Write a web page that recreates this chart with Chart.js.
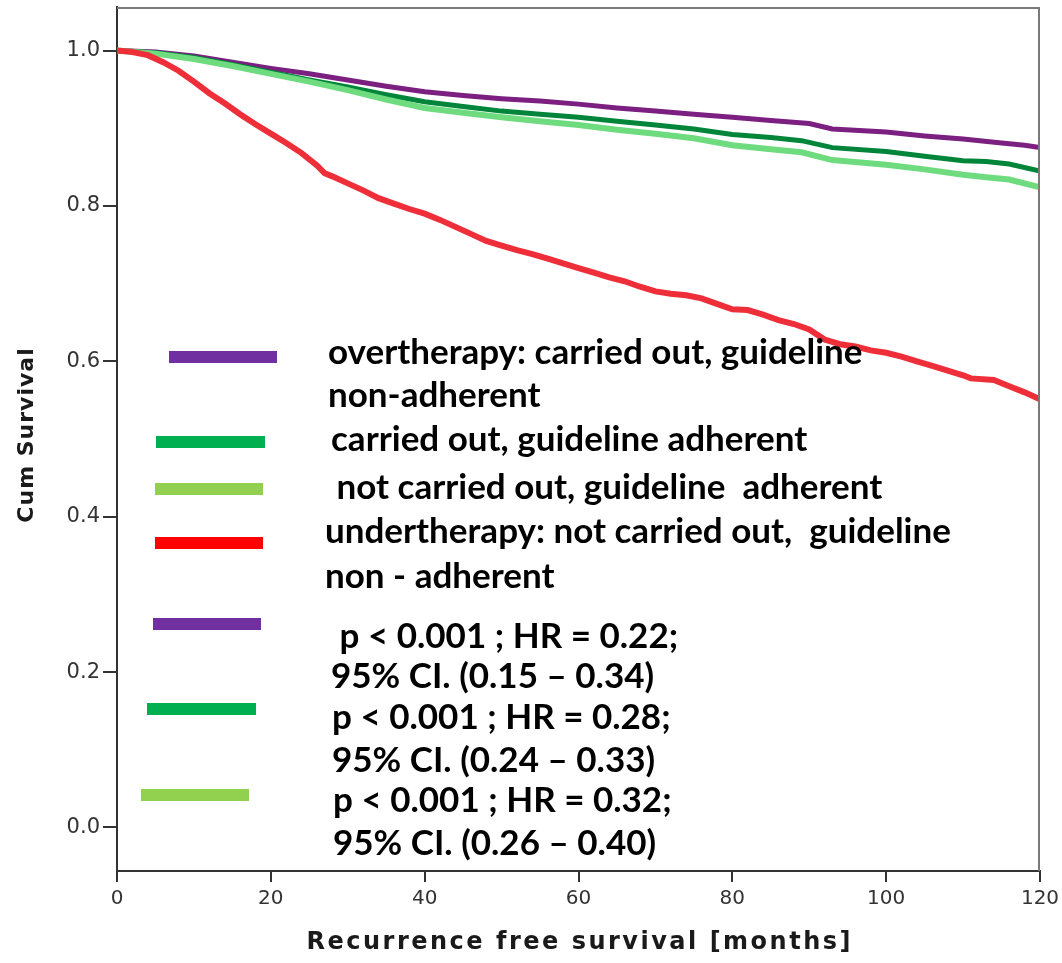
<!DOCTYPE html>
<html>
<head>
<meta charset="utf-8">
<script src="https://cdn.jsdelivr.net/npm/chart.js@4.4.1/dist/chart.umd.min.js"></script>
<style>
html,body{margin:0;padding:0;background:#fff;}
#wrap{width:1062px;height:963px;position:relative;}
</style>
</head>
<body>
<div id="wrap"><canvas id="c"></canvas></div>
<script>
// ---- data ----
const purpleMonths = [0,5,10,15,20,25,30,35,40,45,50,55,60,65,70,75,80,85,90,93,100,105,110,115,118,120];
const purpleSurv   = [1.0,0.998,0.993,0.985,0.977,0.970,0.962,0.954,0.947,0.942,0.938,0.935,0.931,0.926,0.922,0.918,0.914,0.910,0.906,0.899,0.895,0.890,0.886,0.881,0.878,0.875];

const darkGreenMonths = [0,5,10,15,20,25,30,35,40,45,50,55,60,65,70,75,80,85,89,93,100,105,110,113,116,120];
const darkGreenSurv   = [1.0,0.997,0.991,0.982,0.972,0.962,0.953,0.943,0.934,0.928,0.922,0.918,0.914,0.909,0.904,0.899,0.892,0.888,0.884,0.875,0.870,0.864,0.858,0.857,0.854,0.845];

const lightGreenMonths = [0,5,10,15,20,25,30,35,40,45,50,55,60,65,70,75,80,85,89,93,100,105,110,113,116,120];
const lightGreenSurv   = [1.0,0.996,0.989,0.980,0.970,0.960,0.949,0.937,0.926,0.920,0.914,0.909,0.904,0.898,0.893,0.887,0.878,0.873,0.869,0.859,0.853,0.847,0.840,0.837,0.834,0.824];

const redMonths = [0,2,4,6,8,10,12,14,16,18,20,22,24,26,27,28,30,32,34,36,38,40,42,44,46,48,50,52,54,56,58,60,62,64,66,68,70,72,74,76,78,80,82,84,86,88,90,92,94,96,98,100,102,104,106,108,110,111,114,116,118,120];
const redSurv   = [1.0,0.998,0.994,0.985,0.974,0.960,0.945,0.932,0.918,0.905,0.893,0.881,0.868,0.852,0.842,0.838,0.829,0.820,0.810,0.803,0.796,0.790,0.782,0.773,0.764,0.755,0.749,0.743,0.738,0.732,0.726,0.720,0.714,0.708,0.703,0.696,0.690,0.687,0.685,0.681,0.674,0.667,0.666,0.660,0.653,0.648,0.641,0.628,0.622,0.619,0.614,0.611,0.606,0.600,0.594,0.588,0.582,0.578,0.576,0.568,0.560,0.551];

const xTickValues = [0,20,40,60,80,100,120];
const yTickValues = [0.0,0.2,0.4,0.6,0.8,1.0];

const xTitle = 'Recurrence free survival [months]';
const yTitle = 'Cum Survival';

const legendLabels = [
  ["overtherapy: carried out, guideline", "non-adherent"],
  ["carried out, guideline adherent"],
  [" not carried out, guideline  adherent"],
  ["undertherapy: not carried out,  guideline", "non - adherent"],
  [" p < 0.001 ; HR = 0.22;", "95% CI. (0.15 \u2013 0.34)"],
  ["p < 0.001 ; HR = 0.28;", "95% CI. (0.24 \u2013 0.33)"],
  ["p < 0.001 ; HR = 0.32;", "95% CI. (0.26 \u2013 0.40)"]
];

// ---- styling / layout ----
const curveColors = {purple:'#7B1F80', dark:'#00853A', light:'#6EDB7E', red:'#EE2F3A'};
const barColors = ['#7030A0','#00B050','#92D050','#FF0000','#7030A0','#00B050','#92D050'];
// legend layout in canvas pixels: bar x1,x2,yCenter ; text x ; baselines
const legendLayout = [
  {bx1:169,bx2:277,by:357, tx:328, ty:[364,407]},
  {bx1:156,bx2:265,by:442, tx:331, ty:[451]},
  {bx1:155,bx2:263,by:489, tx:328, ty:[499]},
  {bx1:155,bx2:263,by:543, tx:325, ty:[543,588]},
  {bx1:153,bx2:261,by:624, tx:331, ty:[648,688]},
  {bx1:147,bx2:256,by:709, tx:332, ty:[729,772]},
  {bx1:141,bx2:249,by:795, tx:333, ty:[812,855]}
];

function pts(xs, ys){ return xs.map((x,i)=>({x:x, y:ys[i]})); }

const frameAndLegend = {
  id:'frameAndLegend',
  afterDraw(chart){
    const ctx = chart.ctx, a = chart.chartArea;
    ctx.save();
    // top & right frame
    ctx.strokeStyle = '#7a7a7a';
    ctx.lineWidth = 2;
    ctx.beginPath();
    ctx.moveTo(a.left, a.top+1);
    ctx.lineTo(a.right-1, a.top+1);
    ctx.lineTo(a.right-1, a.bottom);
    ctx.stroke();
    // legend
    ctx.letterSpacing = '0px';
    ctx.font = 'bold 35px Lato';
    ctx.textBaseline = 'alphabetic';
    ctx.textAlign = 'left';
    legendLayout.forEach((L,i)=>{
      ctx.fillStyle = barColors[i];
      ctx.fillRect(L.bx1, L.by-6, L.bx2-L.bx1, 12);
      ctx.fillStyle = '#000';
      legendLabels[i].forEach((t,j)=>{ ctx.fillText(t, L.tx, L.ty[j]); });
    });
    // axis titles
    ctx.fillStyle = '#1a1a1a';
    ctx.textAlign = 'center';
    ctx.textBaseline = 'middle';
    ctx.letterSpacing = '2.5px';
    ctx.font = 'bold 24px "DejaVu Sans"';
    ctx.fillText(xTitle, (a.left + a.right)/2 + 1.25, 943);
    ctx.letterSpacing = '1px';
    ctx.font = 'bold 22px "DejaVu Sans"';
    ctx.translate(27, (a.top + a.bottom)/2 - 4);
    ctx.rotate(-Math.PI/2);
    ctx.fillText(yTitle, 0, 0);
    ctx.restore();
  }
};

new Chart(document.getElementById('c'), {
  type:'line',
  data:{
    datasets:[
      {data:pts(redMonths, redSurv), borderColor:curveColors.red, borderWidth:6},
      {data:pts(lightGreenMonths, lightGreenSurv), borderColor:curveColors.light, borderWidth:6},
      {data:pts(darkGreenMonths, darkGreenSurv), borderColor:curveColors.dark, borderWidth:5},
      {data:pts(purpleMonths, purpleSurv), borderColor:curveColors.purple, borderWidth:5}
    ]
  },
  options:{
    responsive:true,
    maintainAspectRatio:false,
    animation:false,
    elements:{point:{radius:0}, line:{tension:0, fill:false, borderCapStyle:'butt'}},
    layout:{padding:{top:7, right:22, left:0, bottom:0}},
    plugins:{legend:{display:false}, tooltip:{enabled:false}},
    scales:{
      x:{
        type:'linear', min:0, max:120,
        afterBuildTicks(s){ s.ticks = xTickValues.map(v=>({value:v})); },
        afterFit(s){ s.height = 92; s.paddingLeft = 0; s.paddingRight = 0; },
        ticks:{color:'#333', font:{family:'DejaVu Sans', size:20}, padding:5, maxRotation:0,
               callback:v=>String(v)},
        grid:{drawOnChartArea:false, drawTicks:true, tickLength:11, color:'#333', lineWidth:2},
        border:{display:true, color:'#333', width:2},
        title:{display:false}
      },
      y:{
        type:'linear', min:-0.056, max:1.056,
        afterBuildTicks(s){ s.ticks = yTickValues.map(v=>({value:v})); },
        afterFit(s){ s.width = 117; s.paddingTop = 0; s.paddingBottom = 0; },
        ticks:{color:'#333', font:{family:'DejaVu Sans', size:21}, padding:3,
               callback:v=>Number(v).toFixed(1)},
        grid:{drawOnChartArea:false, drawTicks:true, tickLength:14, color:'#333', lineWidth:2},
        border:{display:true, color:'#333', width:2},
        title:{display:false}
      }
    }
  },
  plugins:[frameAndLegend]
});
</script>
</body>
</html>
